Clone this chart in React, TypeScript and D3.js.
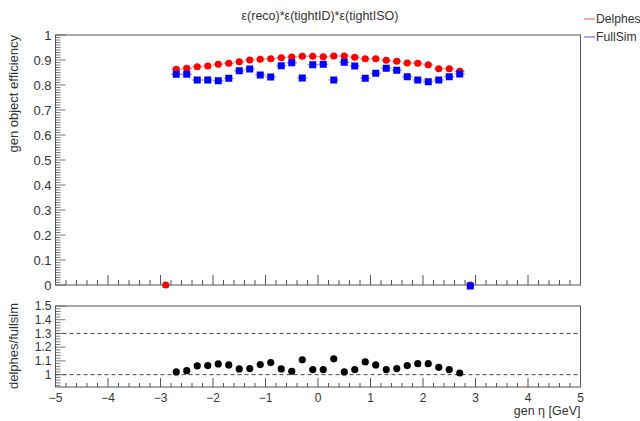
import React, { useRef, useEffect } from "react";
import * as d3 from "d3";

// bin centres (gen eta), 0.2 wide
const etaBins = [
  -2.7, -2.5, -2.3, -2.1, -1.9, -1.7, -1.5, -1.3, -1.1, -0.9, -0.7, -0.5, -0.3, -0.1,
  0.1, 0.3, 0.5, 0.7, 0.9, 1.1, 1.3, 1.5, 1.7, 1.9, 2.1, 2.3, 2.5, 2.7,
];
const delphesEff = [
  0.863, 0.867, 0.873, 0.876, 0.883, 0.887, 0.893, 0.9, 0.903, 0.905, 0.909, 0.912, 0.915, 0.915,
  0.913, 0.916, 0.916, 0.911, 0.905, 0.905, 0.899, 0.895, 0.888, 0.887, 0.881, 0.865, 0.865, 0.855,
];
const fullSimEff = [
  0.843, 0.843, 0.82, 0.82, 0.817, 0.827, 0.857, 0.864, 0.84, 0.832, 0.877, 0.889, 0.828, 0.881,
  0.883, 0.82, 0.891, 0.876, 0.827, 0.847, 0.867, 0.859, 0.833, 0.82, 0.813, 0.82, 0.833, 0.844,
];
const ratioVals = [
  1.02, 1.029, 1.064, 1.066, 1.078, 1.071, 1.042, 1.044, 1.073, 1.088, 1.042, 1.024, 1.108, 1.037,
  1.037, 1.115, 1.02, 1.037, 1.093, 1.071, 1.037, 1.044, 1.066, 1.08, 1.08, 1.053, 1.037, 1.012,
];
// empty edge bins
const delphesZeroEta = [-2.9, 2.9];
const fullSimZeroEta = [2.9];

const xTicks = [-5, -4, -3, -2, -1, 0, 1, 2, 3, 4, 5];
const effTicks = [0, 0.1, 0.2, 0.3, 0.4, 0.5, 0.6, 0.7, 0.8, 0.9, 1];
const ratioTicks = [1, 1.1, 1.2, 1.3, 1.4, 1.5];
const ratioLines = [1, 1.3];

const W = 640;
const H = 421;
const frameCol = "#555";
const textCol = "#333";
const font = "'Liberation Sans', Arial, sans-serif";

export default function App() {
  const svgRef = useRef<SVGSVGElement>(null);

  useEffect(() => {
    const svg = d3.select(svgRef.current);
    svg.selectAll("*").remove();

    const left = 55.5,
      right = 580.5;
    const top = { y0: 35, y1: 285 };
    const bot = { y0: 306, y1: 387 };

    const x = d3.scaleLinear().domain([-5, 5]).range([left, right]);
    const yEff = d3.scaleLinear().domain([0, 1]).range([top.y1, top.y0]);
    const yRat = d3.scaleLinear().domain([0.91, 1.5]).range([bot.y1, bot.y0]);

    // frames
    [top, bot].forEach((f) => {
      svg
        .append("rect")
        .attr("x", left)
        .attr("y", f.y0)
        .attr("width", right - left)
        .attr("height", f.y1 - f.y0)
        .attr("fill", "none")
        .attr("stroke", frameCol)
        .attr("stroke-width", 1);
    });

    // x ticks (both pads)
    const minorX = d3.range(-5, 5.001, 0.2);
    [top, bot].forEach((f, k) => {
      const major = k === 0 ? 10 : 9;
      const minor = k === 0 ? 5 : 4;
      svg
        .append("g")
        .selectAll("line")
        .data(minorX)
        .enter()
        .append("line")
        .attr("x1", (d) => x(d))
        .attr("x2", (d) => x(d))
        .attr("y1", f.y1)
        .attr("y2", (d) => f.y1 - (Math.abs(d - Math.round(d)) < 1e-6 ? major : minor))
        .attr("stroke", frameCol)
        .attr("stroke-width", 1);
    });

    // y ticks upper
    const minorEff = d3.range(0, 1.0001, 0.01);
    svg
      .append("g")
      .selectAll("line")
      .data(minorEff)
      .enter()
      .append("line")
      .attr("x1", left)
      .attr("x2", (d) => left + (Math.abs(d * 10 - Math.round(d * 10)) < 1e-6 ? 10 : 5))
      .attr("y1", (d) => yEff(d))
      .attr("y2", (d) => yEff(d))
      .attr("stroke", frameCol)
      .attr("stroke-width", 0.8);

    const minorRat = d3.range(0.92, 1.5001, 0.02);
    svg
      .append("g")
      .selectAll("line")
      .data(minorRat)
      .enter()
      .append("line")
      .attr("x1", left)
      .attr("x2", (d) => left + (Math.abs(d * 10 - Math.round(d * 10)) < 1e-6 ? 10 : 5))
      .attr("y1", (d) => yRat(d))
      .attr("y2", (d) => yRat(d))
      .attr("stroke", frameCol)
      .attr("stroke-width", 0.8);

    // tick labels
    svg
      .append("g")
      .selectAll("text")
      .data(effTicks)
      .enter()
      .append("text")
      .attr("x", left - 4)
      .attr("y", (d) => yEff(d))
      .attr("dy", "0.35em")
      .attr("text-anchor", "end")
      .attr("font-size", 13)
      .attr("font-family", font)
      .attr("fill", textCol)
      .text((d) => d3.format("")(d));

    svg
      .append("g")
      .selectAll("text")
      .data(ratioTicks)
      .enter()
      .append("text")
      .attr("x", left - 4)
      .attr("y", (d) => yRat(d))
      .attr("dy", "0.35em")
      .attr("text-anchor", "end")
      .attr("font-size", 12)
      .attr("font-family", font)
      .attr("fill", textCol)
      .text((d) => d3.format("")(d));

    svg
      .append("g")
      .selectAll("text")
      .data(xTicks)
      .enter()
      .append("text")
      .attr("x", (d) => x(d))
      .attr("y", bot.y1 + 15)
      .attr("text-anchor", "middle")
      .attr("font-size", 12)
      .attr("font-family", font)
      .attr("fill", textCol)
      .text((d) => d3.format("")(d));

    // dashed reference lines
    svg
      .append("g")
      .selectAll("line")
      .data(ratioLines)
      .enter()
      .append("line")
      .attr("x1", left)
      .attr("x2", right)
      .attr("y1", (d) => yRat(d))
      .attr("y2", (d) => yRat(d))
      .attr("stroke", "#444")
      .attr("stroke-dasharray", "4,3")
      .attr("stroke-width", 1);

    // series
    const half = 0.1;
    const drawErr = (vals: number[], col: string) => {
      svg
        .append("g")
        .selectAll("line")
        .data(etaBins)
        .enter()
        .append("line")
        .attr("x1", (d) => x(d - half))
        .attr("x2", (d) => x(d + half))
        .attr("y1", (d, i) => yEff(vals[i]))
        .attr("y2", (d, i) => yEff(vals[i]))
        .attr("stroke", col)
        .attr("stroke-opacity", 0.45)
        .attr("stroke-width", 1.2);
    };
    drawErr(delphesEff, "#ff0000");
    drawErr(fullSimEff, "#0000ff");

    svg
      .append("g")
      .selectAll("circle")
      .data(etaBins.map((e, i) => [e, delphesEff[i]]).concat(delphesZeroEta.map((e) => [e, 0])))
      .enter()
      .append("circle")
      .attr("cx", (d) => x(d[0]))
      .attr("cy", (d) => yEff(d[1]))
      .attr("r", 3.6)
      .attr("fill", "#ff0000");

    const sq = 7;
    svg
      .append("g")
      .selectAll("rect")
      .data(etaBins.map((e, i) => [e, fullSimEff[i]]).concat(fullSimZeroEta.map((e) => [e, 0])))
      .enter()
      .append("rect")
      .attr("x", (d) => x(d[0]) - sq / 2)
      .attr("y", (d) => yEff(d[1]) - sq / 2 + (d[1] === 0 ? 1 : 0))
      .attr("width", sq)
      .attr("height", sq)
      .attr("fill", "#0000ff");

    svg
      .append("g")
      .selectAll("circle")
      .data(etaBins)
      .enter()
      .append("circle")
      .attr("cx", (d) => x(d))
      .attr("cy", (d, i) => yRat(ratioVals[i]))
      .attr("r", 3.6)
      .attr("fill", "#000");

    // titles
    svg
      .append("text")
      .attr("x", 320)
      .attr("y", 20)
      .attr("text-anchor", "middle")
      .attr("font-size", 12.5)
      .attr("font-family", font)
      .attr("fill", textCol)
      .text("ε(reco)*ε(tightID)*ε(tightISO)");

    svg
      .append("text")
      .attr("transform", `translate(18,${top.y0}) rotate(-90)`)
      .attr("text-anchor", "end")
      .attr("font-size", 13)
      .attr("font-family", font)
      .attr("fill", textCol)
      .text("gen object efficiency");

    svg
      .append("text")
      .attr("transform", `translate(18,${bot.y0 - 3}) rotate(-90)`)
      .attr("text-anchor", "end")
      .attr("font-size", 13)
      .attr("font-family", font)
      .attr("fill", textCol)
      .text("delphes/fullsim");

    svg
      .append("text")
      .attr("x", right)
      .attr("y", 415)
      .attr("text-anchor", "end")
      .attr("font-size", 12.5)
      .attr("font-family", font)
      .attr("fill", textCol)
      .text("gen η [GeV]");

    // legend
    const legend = [
      { name: "Delphes", col: "#ff0000", y: 19 },
      { name: "FullSim", col: "#0000ff", y: 37 },
    ];
    const lg = svg.append("g").selectAll("g").data(legend).enter().append("g");
    lg.append("line")
      .attr("x1", 584)
      .attr("x2", 595)
      .attr("y1", (d) => d.y)
      .attr("y2", (d) => d.y)
      .attr("stroke", (d) => d.col)
      .attr("stroke-opacity", 0.45)
      .attr("stroke-width", 1.5);
    lg.append("text")
      .attr("x", 596)
      .attr("y", (d) => d.y)
      .attr("dy", "0.35em")
      .attr("font-size", 12.2)
      .attr("font-family", font)
      .attr("fill", textCol)
      .text((d) => d.name);
  }, []);

  return (
    <div style={{ position: "absolute", left: 0, top: 0 }}>
      <svg ref={svgRef} width={W} height={H} style={{ display: "block", background: "#fff" }} />
    </div>
  );
}
